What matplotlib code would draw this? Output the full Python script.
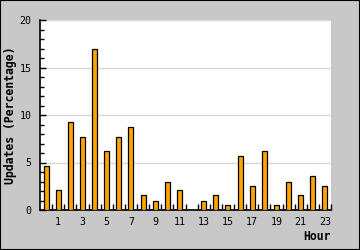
import numpy as np
import matplotlib
matplotlib.use('Agg')
import matplotlib.pyplot as plt
from matplotlib.ticker import MultipleLocator, FixedLocator

# Données : pourcentage des mises à jour par heure
hours = list(range(24))
updates = [4.6, 2.1, 9.3, 7.7, 17.0, 6.2, 7.7, 8.7, 1.55, 1.0, 3.0, 2.1,
           0.0, 1.0, 1.55, 0.5, 5.65, 2.5, 6.2, 0.5, 3.0, 1.55, 3.55, 2.5]
hour_labels = [str(h) for h in hours if h % 2 == 1]

plt.rcParams['font.family'] = 'DejaVu Sans Mono'

fig = plt.figure(figsize=(3.6, 2.5), dpi=100, facecolor='#c8c8c8')
ax = fig.add_axes([40 / 360, 40 / 250, 291 / 360, 190 / 250])
ax.set_facecolor('white')

ax.bar(hours, updates, width=0.42, color='#ffa500', edgecolor='black',
       linewidth=0.9, zorder=3)

ax.set_xlim(-0.5, 23.5)
ax.set_ylim(0, 20)

# Axe Y
ax.yaxis.set_major_locator(MultipleLocator(5))
ax.yaxis.set_minor_locator(MultipleLocator(1))
ax.tick_params(axis='y', which='major', direction='in', length=4, width=1,
               pad=6, labelsize=7.2)
ax.tick_params(axis='y', which='minor', direction='in', length=3, width=1)
ax.grid(axis='y', which='major', color='#d8d8d8', linewidth=1, zorder=0)

# Axe X : étiquettes aux heures impaires, graduations entre les barres
ax.xaxis.set_major_locator(FixedLocator([h for h in hours if h % 2 == 1]))
ax.set_xticklabels(hour_labels)
ax.xaxis.set_minor_locator(FixedLocator([h + 0.5 for h in hours[:-1]] + [23.5]))
ax.tick_params(axis='x', which='major', length=0, pad=5, labelsize=7.2)
ax.tick_params(axis='x', which='minor', direction='in', length=4, width=1)

for side in ['top', 'right']:
    ax.spines[side].set_visible(False)
for side in ['left', 'bottom']:
    ax.spines[side].set_linewidth(1.2)

ax.set_ylabel('Updates (Percentage)', fontsize=8.3, fontweight='bold',
              va='center')
ax.yaxis.set_label_coords(-29 / 291, 0.5)
ax.set_xlabel('Hour', fontsize=8.3, fontweight='bold', ha='right', va='center')
ax.xaxis.set_label_coords(1.0, -27 / 190)

# Bordure noire autour de la figure
fig.patches.append(plt.Rectangle((0, 0), 1, 1, transform=fig.transFigure,
                                 fill=False, edgecolor='black', linewidth=1.5))

fig.savefig('out.png', dpi=100, facecolor=fig.get_facecolor())
